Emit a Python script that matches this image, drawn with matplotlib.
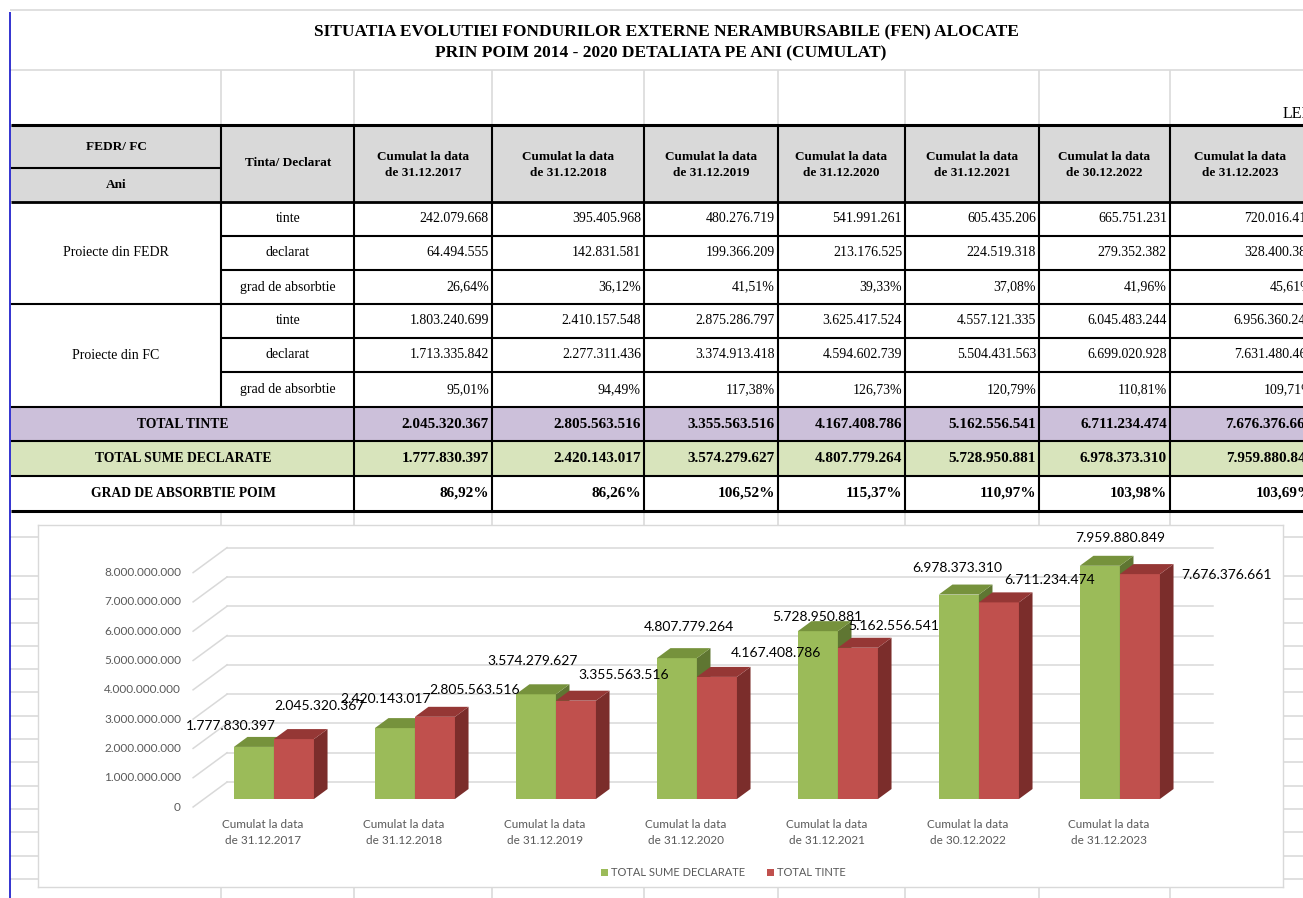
import matplotlib
matplotlib.use('Agg')
import matplotlib.pyplot as plt
from matplotlib.patches import Polygon, Rectangle
import numpy as np

# date columns
dates = ['31.12.2017', '31.12.2018', '31.12.2019', '31.12.2020',
         '31.12.2021', '30.12.2022', '31.12.2023']

# FEDR
fedr_tinte = [242079668, 395405968, 480276719, 541991261, 605435206, 665751231, 720016415]
fedr_declarat = [64494555, 142831581, 199366209, 213176525, 224519318, 279352382, 328400384]
fedr_grad = [26.64, 36.12, 41.51, 39.33, 37.08, 41.96, 45.61]
# FC
fc_tinte = [1803240699, 2410157548, 2875286797, 3625417524, 4557121335, 6045483244, 6956360246]
fc_declarat = [1713335842, 2277311436, 3374913418, 4594602739, 5504431563, 6699020928, 7631480465]
fc_grad = [95.01, 94.49, 117.38, 126.73, 120.79, 110.81, 109.71]
# totals
total_tinte = [2045320367, 2805563516, 3355563516, 4167408786, 5162556541, 6711234474, 7676376661]
total_declarate = [1777830397, 2420143017, 3574279627, 4807779264, 5728950881, 6978373310, 7959880849]
grad_poim = [86.92, 86.26, 106.52, 115.37, 110.97, 103.98, 103.69]

y_ticks = [0, 1e9, 2e9, 3e9, 4e9, 5e9, 6e9, 7e9, 8e9]

# label offsets (pixels) from the bar tops, excel put them a bit everywhere
green_lbl_off = [(-23, 21), (-9, 29), (-3, 33), (12, 31), (-1, 14), (-2, 27), (20, 28)]
red_lbl_off = [(26, 33), (40, 27), (48, 26), (59, 24), (36, 22), (51, 22), (87, -1)]


def fmt_num(v):
    return f"{int(v):,}".replace(',', '.')


def fmt_pct(v):
    return f"{v:.2f}".replace('.', ',') + '%'


fig = plt.figure(figsize=(13.03, 8.98), dpi=100)
fig.patch.set_facecolor('white')

# ---------------- table (pixel coords) ----------------
bg = fig.add_axes([0, 0, 1, 1])
bg.set_xlim(0, 1303)
bg.set_ylim(898, 0)
bg.axis('off')

GRID = '#dadada'
SERIF = 'Liberation Serif'

cols = [11, 221, 354, 492, 644, 778, 905, 1039, 1170, 1316]
rows = [202, 236, 270, 304, 338, 372, 407, 441, 476, 511]


def hl(y, x0, x1, c='black', lw=1.5):
    bg.plot([x0, x1], [y, y], color=c, lw=lw, solid_capstyle='butt')


def vl(x, y0, y1, c='black', lw=1.5):
    bg.plot([x, x], [y0, y1], color=c, lw=lw, solid_capstyle='butt')


# spreadsheet gridlines
hl(10, 10, 1303, GRID, 1.2)
hl(70, 10, 1303, GRID, 1.2)
for x in cols[1:-1]:
    vl(x, 70, 125, GRID, 1.2)
    vl(x, 511, 898, GRID, 1.2)
for y in [537] + list(np.arange(576, 898, 23.3)):
    hl(y, 10, 1303, GRID, 1.2)

# fills
bg.add_patch(Rectangle((11, 125), 1300, 77, color='#d9d9d9', lw=0))
bg.add_patch(Rectangle((11, 407), 1300, 34, color='#ccc0da', lw=0))
bg.add_patch(Rectangle((11, 441), 1300, 35, color='#d8e4bc', lw=0))

# title
bg.text(666, 32, 'SITUATIA EVOLUTIEI FONDURILOR EXTERNE NERAMBURSABILE (FEN) ALOCATE',
        ha='center', va='center', fontsize=12.5, fontweight='bold', family=SERIF)
bg.text(661, 53, 'PRIN POIM 2014 - 2020 DETALIATA PE ANI (CUMULAT)',
        ha='center', va='center', fontsize=12.5, fontweight='bold', family=SERIF)
bg.text(1283, 114, 'LEI', ha='left', va='center', fontsize=11.5, family=SERIF)

# header
bg.text(116, 147, 'FEDR/ FC', ha='center', va='center', fontsize=9.5, fontweight='bold', family=SERIF)
bg.text(116, 185, 'Ani', ha='center', va='center', fontsize=9.5, fontweight='bold', family=SERIF)
bg.text(288, 163, 'Tinta/ Declarat', ha='center', va='center', fontsize=9.5, fontweight='bold', family=SERIF)
for j, d in enumerate(dates):
    cx = (cols[j + 2] + min(cols[j + 3], 1310)) / 2
    bg.text(cx, 165, 'Cumulat la data\nde ' + d, ha='center', va='center',
            fontsize=9.5, fontweight='bold', family=SERIF, linespacing=1.55)

# body
groups = [('Proiecte din FEDR', [fedr_tinte, fedr_declarat, fedr_grad]),
          ('Proiecte din FC', [fc_tinte, fc_declarat, fc_grad])]
sub = ['tinte', 'declarat', 'grad de absorbtie']
for g, (gname, series) in enumerate(groups):
    y0 = rows[g * 3]
    y1 = rows[g * 3 + 3]
    bg.text(116, (y0 + y1) / 2, gname, ha='center', va='center', fontsize=10, family=SERIF)
    for k in range(3):
        ya, yb = rows[g * 3 + k], rows[g * 3 + k + 1]
        ym = (ya + yb) / 2
        bg.text(288, ym, sub[k], ha='center', va='center', fontsize=10, family=SERIF)
        for j in range(7):
            v = series[k][j]
            s = fmt_pct(v) if k == 2 else fmt_num(v)
            bg.text(cols[j + 3] - 3, ym, s, ha='right', va='center', fontsize=10, family=SERIF)

tot_rows = [('TOTAL TINTE', total_tinte, False),
            ('TOTAL SUME DECLARATE', total_declarate, False),
            ('GRAD DE ABSORBTIE POIM', grad_poim, True)]
for k, (name, vals, pct) in enumerate(tot_rows):
    ym = (rows[6 + k] + rows[7 + k]) / 2
    bg.text(183, ym, name, ha='center', va='center', fontsize=9.8, fontweight='bold', family=SERIF)
    for j in range(7):
        s = fmt_pct(vals[j]) if pct else fmt_num(vals[j])
        bg.text(cols[j + 3] - 3, ym, s, ha='right', va='center', fontsize=11,
                fontweight='bold', family=SERIF)

# borders
hl(125, 11, 1303, lw=2.2)
hl(168, 11, 221, lw=1.5)
hl(202, 11, 1303, lw=2)
for y in [236, 270, 338, 372]:
    hl(y, 221, 1303, lw=1.5)
for y in [304, 407, 441, 476]:
    hl(y, 11, 1303, lw=1.5)
hl(511, 11, 1303, lw=2.2)
vl(221, 125, 407, lw=1.5)
for x in cols[2:-1]:
    vl(x, 125, 511, lw=1.5)
vl(10, 12, 898, '#1010c8', 1.2)

# ---------------- chart ----------------
# pixel mapping: x_px = 263 + 141*x ; y_px = 807 - 29.3e-9*v
ax = fig.add_axes([38 / 1303, (898 - 887) / 898, 1245 / 1303, 362 / 898], zorder=3)
ax.set_xlim(-1.596, 7.234)
ax.set_ylim(-2.730e9, 9.625e9)
ax.set_xticks([])
ax.set_yticks([])
for sp in ax.spines.values():
    sp.set_color('#d9d9d9')
    sp.set_linewidth(1)

DDX, DDY = 0.241, 0.853e9   # full floor depth
ZF, BD = 0.32, 0.40         # bar front position and depth (fraction of floor)
W = 0.284
X_AX = -0.496
X_END = 6.738
LBL = '#595959'
FONT = 'Lato'

for v in y_ticks:
    ax.plot([X_AX, X_AX + DDX], [v, v + DDY], color='#d9d9d9', lw=1.1, zorder=1)
    ax.plot([X_AX + DDX, X_END], [v + DDY, v + DDY], color='#d9d9d9', lw=1.1, zorder=1)
    ax.text(X_AX - 0.086, v, fmt_num(v), ha='right', va='center', fontsize=8.5,
            color=LBL, family=FONT)

cats = np.arange(len(dates))
fx, fy = ZF * DDX, ZF * DDY
bdx, bdy = BD * DDX, BD * DDY

ax.bar(cats + fx - W, total_declarate, width=W, bottom=fy, align='edge',
       color='#9bbb59', lw=0, zorder=2, label='TOTAL SUME DECLARATE')
ax.bar(cats + fx, total_tinte, width=W, bottom=fy, align='edge',
       color='#c0504d', lw=0, zorder=4, label='TOTAL TINTE')


def box_faces(xl, xr, top, c_top, c_side, z):
    t = top + fy
    ax.add_patch(Polygon([(xr, fy), (xr, t), (xr + bdx, t + bdy), (xr + bdx, fy + bdy)],
                         closed=True, color=c_side, lw=0, zorder=z))
    ax.add_patch(Polygon([(xl, t), (xr, t), (xr + bdx, t + bdy), (xl + bdx, t + bdy)],
                         closed=True, color=c_top, lw=0, zorder=z + 0.1))


for i in cats:
    box_faces(i + fx - W, i + fx, total_declarate[i], '#76923c', '#5f7632', 2.5)
    box_faces(i + fx, i + fx + W, total_tinte[i], '#953735', '#7b2d2b', 4.5)

for i in cats:
    g, r = total_declarate[i], total_tinte[i]
    ax.annotate(fmt_num(g), xy=(i + fx - W / 2, g + fy), xytext=green_lbl_off[i],
                textcoords='offset pixels', ha='center', va='center', fontsize=10,
                family=FONT, color='black', zorder=6)
    ax.annotate(fmt_num(r), xy=(i + fx + W / 2, r + fy), xytext=red_lbl_off[i],
                textcoords='offset pixels', ha='center', va='center', fontsize=10,
                family=FONT, color='black', zorder=6)
    ax.text(i, -0.87e9, 'Cumulat la data\nde ' + dates[i], ha='center', va='center',
            fontsize=8.5, color=LBL, family=FONT, linespacing=1.45)

leg = ax.legend(loc='center', bbox_to_anchor=(0.5506, 0.0387), ncol=2, frameon=False,
                prop={'family': FONT, 'size': 8}, handlelength=0.6, handleheight=0.6,
                handletextpad=0.3, columnspacing=2.0)
for t in leg.get_texts():
    t.set_color(LBL)

fig.savefig('out.png', dpi=100)
